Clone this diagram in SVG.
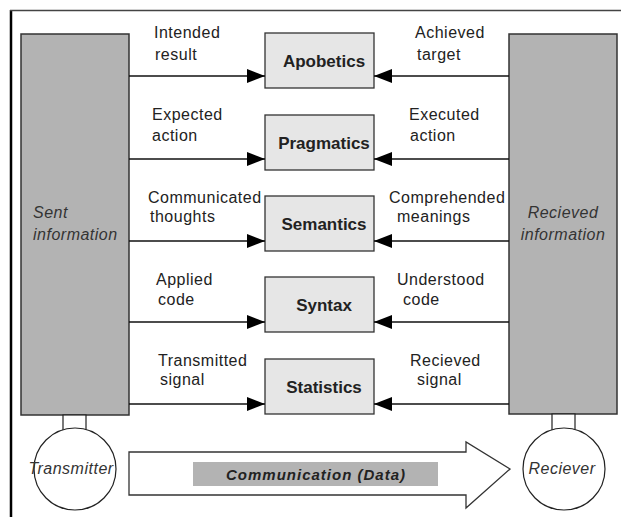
<svg xmlns="http://www.w3.org/2000/svg" width="621" height="517" viewBox="0 0 621 517">
<defs>
<style>
.lbl{font-family:"Liberation Sans",Arial,sans-serif;font-size:16px;letter-spacing:0.5px;fill:#222}
.it{font-family:"Liberation Sans",Arial,sans-serif;font-size:16px;font-style:italic;letter-spacing:0.5px;fill:#333}
.bx{font-family:"Liberation Sans",Arial,sans-serif;font-size:17px;font-weight:bold;fill:#222;text-anchor:middle}
.big{fill:#b3b3b3;stroke:#333;stroke-width:1.5}
.box{fill:#e6e6e6;stroke:#333;stroke-width:1.3}
.ln{stroke:#111;stroke-width:1.4;fill:none}
.ol{fill:#fff;stroke:#222;stroke-width:1.2}
</style>
<marker id="ah" viewBox="0 0 18 14" refX="18" refY="7" markerWidth="18" markerHeight="14" markerUnits="userSpaceOnUse" orient="auto">
<path d="M0,0 L18,7 L0,14 Z" fill="#000"/>
</marker>
</defs>
<rect width="621" height="517" fill="#fff"/>
<g id="frame">
<line x1="11" y1="10" x2="11" y2="517" stroke="#000" stroke-width="2.5"/>
<line x1="10" y1="10.5" x2="621" y2="10.5" stroke="#444" stroke-width="1.5"/>
</g>
<g id="sent">
<rect class="big" x="21" y="34" width="108" height="381"/>
<text class="it" x="33" y="218">Sent</text>
<text class="it" x="33" y="240">information</text>
</g>
<g id="received">
<rect class="big" x="509" y="34" width="108" height="380"/>
<text class="it" x="563" y="218" text-anchor="middle">Recieved</text>
<text class="it" x="563" y="240" text-anchor="middle">information</text>
</g>
<g id="transmitter">
<rect class="ol" x="63" y="415" width="23" height="16"/>
<circle class="ol" cx="75" cy="469" r="41"/>
<text class="it" x="71" y="474" text-anchor="middle">Transmitter</text>
</g>
<g id="reciever">
<rect class="ol" x="552" y="414" width="23" height="16"/>
<circle class="ol" cx="564" cy="469" r="41"/>
<text class="it" x="562" y="474" text-anchor="middle">Reciever</text>
</g>
<g id="communication">
<path d="M129,452 L466,452 L466,442 L510,469 L466,508 L466,495 L129,495 Z" fill="#fff" stroke="#333" stroke-width="1.3"/>
<rect x="193" y="462" width="245" height="24" fill="#b3b3b3"/>
<text x="316" y="480" text-anchor="middle" style="font-family:'Liberation Sans',Arial,sans-serif;font-size:15px;font-weight:bold;font-style:italic;letter-spacing:1px;fill:#222">Communication (Data)</text>
</g>
<g id="apobetics">
<rect class="box" x="265" y="33" width="109" height="55"/>
<text class="bx" x="324" y="67">Apobetics</text>
</g>
<g id="pragmatics">
<rect class="box" x="265" y="115" width="109" height="55"/>
<text class="bx" x="324" y="149">Pragmatics</text>
</g>
<g id="semantics">
<rect class="box" x="265" y="196" width="109" height="55"/>
<text class="bx" x="324" y="230">Semantics</text>
</g>
<g id="syntax">
<rect class="box" x="265" y="277" width="109" height="55"/>
<text class="bx" x="324" y="311">Syntax</text>
</g>
<g id="statistics">
<rect class="box" x="265" y="359" width="109" height="55"/>
<text class="bx" x="324" y="393">Statistics</text>
</g>
<g id="connectors">
<line class="ln" x1="129" y1="76" x2="265" y2="76" marker-end="url(#ah)"/>
<line class="ln" x1="509" y1="76" x2="374" y2="76" marker-end="url(#ah)"/>
<line class="ln" x1="129" y1="159" x2="265" y2="159" marker-end="url(#ah)"/>
<line class="ln" x1="509" y1="159" x2="374" y2="159" marker-end="url(#ah)"/>
<line class="ln" x1="129" y1="241" x2="265" y2="241" marker-end="url(#ah)"/>
<line class="ln" x1="509" y1="241" x2="374" y2="241" marker-end="url(#ah)"/>
<line class="ln" x1="129" y1="322" x2="265" y2="322" marker-end="url(#ah)"/>
<line class="ln" x1="509" y1="322" x2="374" y2="322" marker-end="url(#ah)"/>
<line class="ln" x1="129" y1="404" x2="265" y2="404" marker-end="url(#ah)"/>
<line class="ln" x1="509" y1="404" x2="374" y2="404" marker-end="url(#ah)"/>
<text class="lbl" x="154" y="38">Intended</text>
<text class="lbl" x="155" y="60">result</text>
<text class="lbl" x="415" y="38">Achieved</text>
<text class="lbl" x="417" y="60">target</text>
<text class="lbl" x="152" y="120">Expected</text>
<text class="lbl" x="152" y="141">action</text>
<text class="lbl" x="409" y="120">Executed</text>
<text class="lbl" x="410" y="141">action</text>
<text class="lbl" x="148" y="203">Communicated</text>
<text class="lbl" x="150" y="222">thoughts</text>
<text class="lbl" x="389" y="203">Comprehended</text>
<text class="lbl" x="397" y="222">meanings</text>
<text class="lbl" x="156" y="285">Applied</text>
<text class="lbl" x="158" y="305">code</text>
<text class="lbl" x="397" y="285">Understood</text>
<text class="lbl" x="403" y="305">code</text>
<text class="lbl" x="158" y="366">Transmitted</text>
<text class="lbl" x="160" y="385">signal</text>
<text class="lbl" x="410" y="366">Recieved</text>
<text class="lbl" x="417" y="385">signal</text>
</g>
</svg>
